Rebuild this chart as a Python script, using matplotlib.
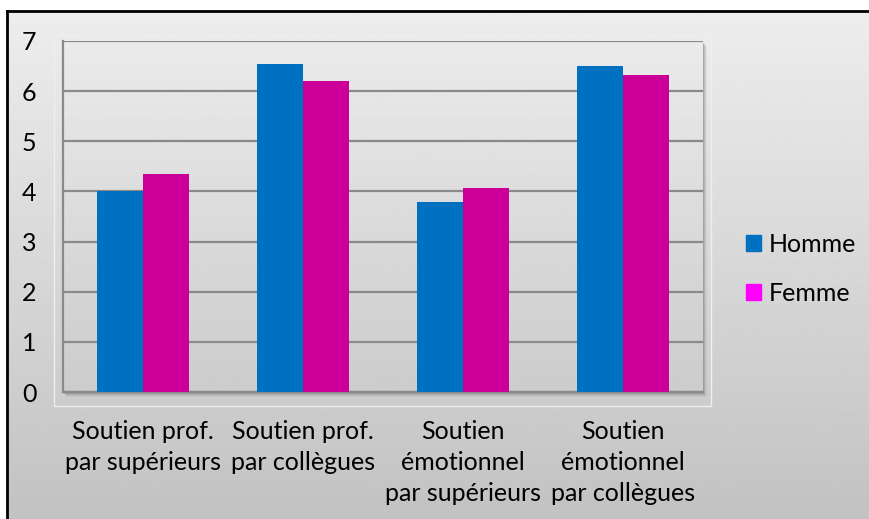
import matplotlib
matplotlib.use("Agg")
import matplotlib.pyplot as plt
import numpy as np
from matplotlib.patches import Rectangle

# data
categories = ["Soutien prof.\npar supérieurs", "Soutien prof.\npar collègues",
              "Soutien\némotionnel\npar supérieurs", "Soutien\némotionnel\npar collègues"]
homme = [4.00, 6.55, 3.78, 6.50]
femme = [4.34, 6.20, 4.07, 6.32]
yticks = [0, 1, 2, 3, 4, 5, 6, 7]

W, H = 870, 519
plt.rcParams['font.family'] = ['Lato', 'DejaVu Sans']

fig = plt.figure(figsize=(W / 100, H / 100), dpi=100)
fig.patch.set_facecolor("white")

# chart area background gradient, with black border on left/top
bg = fig.add_axes([0, 0, 1, 1])
bg.set_xlim(0, W)
bg.set_ylim(H, 0)
bg.axis("off")
grad = np.linspace(0.93, 0.76, 256).reshape(-1, 1)
bg.imshow(grad, cmap="gray", vmin=0, vmax=1, extent=[7, W + 5, H + 5, 11], aspect="auto")
bg.plot([7, 7], [H + 5, 11], color="black", lw=2)
bg.plot([7, W + 5], [11, 11], color="black", lw=2)
bg.add_patch(Rectangle((54, 36), 657, 370, fill=False, ec="#efefef", lw=1))
# soft plot area shadow
for i, a in enumerate([0.35, 0.25, 0.15, 0.08]):
    bg.add_patch(Rectangle((64 + i, 43 + i), 640, 351, fc="#808080", ec="none", alpha=a))
bg.set_ylim(H, 0)

L, T, R, B = 63, 41, 703, 392
ax = fig.add_axes([L / W, 1 - B / H, (R - L) / W, (B - T) / H])
ax.imshow(np.linspace(0.92, 0.80, 256).reshape(-1, 1), cmap="gray", vmin=0, vmax=1,
          extent=[-0.5, 3.5, 0, 7], aspect="auto", zorder=0)

x = np.arange(len(categories))
gw = 1 / 1.75
bw = gw / 2
ax.bar(x - bw / 2, homme, bw, color="#0070C0", label="Homme", zorder=3)
ax.bar(x + bw / 2, femme, bw, color="#CC0099", label="Femme", zorder=3)

ax.set_xlim(-0.5, 3.5)
ax.set_ylim(0, 7)
ax.set_yticks(yticks)
ax.set_yticklabels([str(v) for v in yticks])
ax.set_xticks(x)
ax.set_xticklabels(categories, linespacing=1.42)
ax.yaxis.grid(True, color="#8a8a8a", lw=1.6, zorder=1)
ax.set_axisbelow(True)
ax.tick_params(axis="both", length=0, labelsize=18, colors="black")
ax.tick_params(axis="y", pad=19)
ax.tick_params(axis="x", pad=20)
for s in ["top", "right"]:
    ax.spines[s].set_visible(False)
for s in ["left", "bottom"]:
    ax.spines[s].set_color("#8a8a8a")
    ax.spines[s].set_linewidth(1.6)

h, l = ax.get_legend_handles_labels()
h[1] = Rectangle((0, 0), 1, 1, color="#FF00FF")
h[0] = Rectangle((0, 0), 1, 1, color="#0070C0")
fig.legend(h, l, loc="center left", bbox_to_anchor=(724 / W, 1 - 269 / H), frameon=False,
           fontsize=18, handlelength=0.6, handleheight=0.6, handletextpad=0.3,
           labelspacing=1.05)

fig.savefig("out.png", dpi=100)
